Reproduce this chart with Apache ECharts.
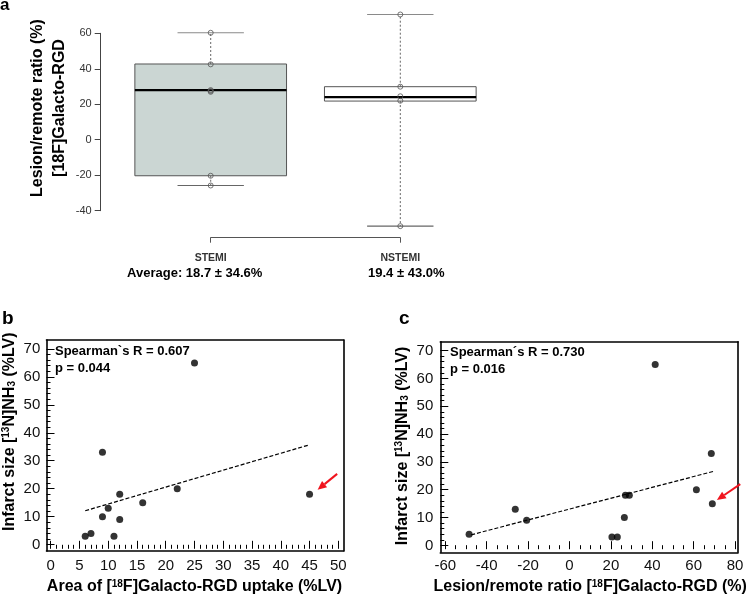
<!DOCTYPE html>
<html><head><meta charset="utf-8">
<script src="https://cdn.jsdelivr.net/npm/echarts@6/dist/echarts.min.js"></script>
<style>html,body{margin:0;padding:0;background:#fff}#c{width:754px;height:596px}</style>
</head><body><div id="c"></div>
<script>
// ---------- Panel a: box plot ----------
const boxCategories = ['STEMI', 'NSTEMI'];
const boxAverages = ['Average: 18.7 ± 34.6%', '19.4 ± 43.0%'];
// [catIndex, lower whisker, Q1, median, Q3, upper whisker]
const boxStats = [[0, -25.8, -20.3, 28, 42.7, 60.3], [1, -48.7, 21.8, 24, 29.9, 70.6]];
const stemiPoints = [60.3, 42.5, 28, 27.5, 27, -20.3, -25.8];
const nstemiPoints = [70.6, 29.9, 24.5, 22, -48.7];

// ---------- Panel b ----------
const uptakeArea = [6, 7, 9, 9, 10, 11, 12, 12, 16, 22, 25, 45];
const infarctSizeB = [3, 4, 10, 33, 13, 3, 18, 9, 15, 20, 65, 18];
const fitB = [[6, 12.1], [45, 35.7]];
const arrowB = [[49.8, 25.3, 46.4, 19.6]];

// ---------- Panel c ----------
const lesionRatio = [-48.5, -26.2, -20.7, 20.5, 23.1, 26.5, 27, 28.9, 41.4, 61.3, 68.5, 69];
const infarctSizeC = [4, 13, 9, 3, 3, 10, 18, 18, 65, 20, 33, 15];
const fitC = [[-47.5, 3.8], [69.5, 26.6]];
const arrowC = [[82.5, 22, 71.2, 16.3]];

const FONT = '"Liberation Sans", Arial, Helvetica, sans-serif';

function zipXY(xs, ys) { return xs.map((x, i) => [x, ys[i]]); }

function boxRender(params, api) {
  const ci = api.value(0);
  const c0 = api.coord([0, 0]), c1 = api.coord([1, 0]);
  const step = Math.abs(c1[0] - c0[0]);
  const hw = step * 0.4, cw = step * 0.175;
  const x = api.coord([ci, 0])[0];
  const yLo = api.coord([ci, api.value(1)])[1];
  const yQ1 = api.coord([ci, api.value(2)])[1];
  const yMed = api.coord([ci, api.value(3)])[1];
  const yQ3 = api.coord([ci, api.value(4)])[1];
  const yHi = api.coord([ci, api.value(5)])[1];
  const fill = ci === 0 ? '#cbd6d3' : '#ffffff';
  return {
    type: 'group',
    children: [
      { type: 'line', shape: { x1: x, y1: yQ3, x2: x, y2: yHi }, style: { stroke: '#666', lineWidth: 1, lineDash: [2, 2] } },
      { type: 'line', shape: { x1: x, y1: yQ1, x2: x, y2: yLo }, style: { stroke: '#666', lineWidth: 1, lineDash: [2, 2] } },
      { type: 'line', shape: { x1: x - cw, y1: yHi, x2: x + cw, y2: yHi }, style: { stroke: '#8a8a8a', lineWidth: 1.2 } },
      { type: 'line', shape: { x1: x - cw, y1: yLo, x2: x + cw, y2: yLo }, style: { stroke: '#666', lineWidth: 1.2 } },
      { type: 'rect', shape: { x: x - hw, y: yQ3, width: 2 * hw, height: yQ1 - yQ3 }, style: { fill: fill, stroke: '#555', lineWidth: 1 } },
      { type: 'line', shape: { x1: x - hw, y1: yMed, x2: x + hw, y2: yMed }, style: { stroke: '#000', lineWidth: 2.2 } }
    ]
  };
}

function arrowRender(params, api) {
  const p1 = api.coord([api.value(0), api.value(1)]);
  const p2 = api.coord([api.value(2), api.value(3)]);
  const ang = Math.atan2(p2[1] - p1[1], p2[0] - p1[0]);
  const L = 9, W = 4;
  const bx = p2[0] - L * Math.cos(ang), by = p2[1] - L * Math.sin(ang);
  const nx = -Math.sin(ang) * W, ny = Math.cos(ang) * W;
  return {
    type: 'group',
    children: [
      { type: 'line', shape: { x1: p1[0], y1: p1[1], x2: bx, y2: by }, style: { stroke: '#f0141e', lineWidth: 2 } },
      { type: 'polygon', shape: { points: [[p2[0], p2[1]], [bx + nx, by + ny], [bx - nx, by - ny]] }, style: { fill: '#f0141e' } }
    ]
  };
}

const supRich = {
  sup: { fontSize: 10, fontWeight: 'bold', fontFamily: FONT, verticalAlign: 'top', color: '#000' },
  sub: { fontSize: 10, fontWeight: 'bold', fontFamily: FONT, verticalAlign: 'bottom', color: '#000' }
};

function dataXAxis(gridIndex, min, max, interval, minorSplit, offset, name) {
  return {
    type: 'value', gridIndex: gridIndex, position: 'bottom', min: min, max: max, interval: interval, offset: offset,
    splitLine: { show: false },
    axisLine: { show: false, onZero: false },
    axisTick: { show: true, inside: true, length: 8, lineStyle: { color: '#000', width: 1 } },
    minorTick: { show: true, splitNumber: minorSplit, length: 4, lineStyle: { color: '#000', width: 1 } },
    axisLabel: { show: true, margin: 5 + offset, fontSize: 15, color: '#111', fontFamily: FONT, showMinLabel: true, showMaxLabel: true },
    name: name, nameLocation: 'middle', nameGap: 26 + offset, nameMoveOverlap: false,
    nameTextStyle: { fontSize: 16, fontWeight: 'bold', color: '#000', fontFamily: FONT, rich: supRich }
  };
}

function dataYAxis(gridIndex, offset, name, pad) {
  return {
    type: 'value', gridIndex: gridIndex, position: 'left', min: 0, max: 70, interval: 10, offset: offset,
    splitLine: { show: false },
    axisLine: { show: false, onZero: false },
    axisTick: { show: true, inside: true, length: 8, lineStyle: { color: '#000', width: 1 } },
    minorTick: { show: true, splitNumber: 5, length: 4, lineStyle: { color: '#000', width: 1 } },
    axisLabel: { show: true, margin: 2 + offset, fontSize: 15, color: '#111', fontFamily: FONT, showMinLabel: true, showMaxLabel: true },
    name: name, nameLocation: 'middle', nameRotate: 90, nameGap: 25 + offset, nameMoveOverlap: false,
    nameTextStyle: { fontSize: 16, fontWeight: 'bold', color: '#000', fontFamily: FONT, rich: supRich, padding: pad }
  };
}

// frame edge: an axis that only draws its line
function frameAxis(gridIndex, position) {
  return {
    type: 'value', gridIndex: gridIndex, position: position, min: 0, max: 1,
    splitLine: { show: false }, axisTick: { show: false }, axisLabel: { show: false }, minorTick: { show: false },
    axisLine: { show: true, onZero: false, lineStyle: { color: '#000', width: 1.6 } }
  };
}

const chart = echarts.init(document.getElementById('c'), null, { renderer: 'canvas' });

const option = {
  backgroundColor: '#fff',
  animation: false,
  textStyle: { fontFamily: FONT },
  title: [
    { text: 'a', left: 0, top: -3, padding: 0, textStyle: { fontSize: 17, fontWeight: 'bold', color: '#000', fontFamily: FONT } },
    { text: 'b', left: 2, top: 309, padding: 0, textStyle: { fontSize: 19, fontWeight: 'bold', color: '#000', fontFamily: FONT } },
    { text: 'c', left: 399, top: 309, padding: 0, textStyle: { fontSize: 19, fontWeight: 'bold', color: '#000', fontFamily: FONT } },
    { text: 'Spearman`s R = 0.607\np = 0.044', left: 55, top: 343.5, padding: 0,
      textStyle: { fontSize: 13, fontWeight: 'bold', color: '#000', lineHeight: 16.6, fontFamily: FONT } },
    { text: 'Spearman´s R = 0.730\np = 0.016', left: 450, top: 344.5, padding: 0,
      textStyle: { fontSize: 13, fontWeight: 'bold', color: '#000', lineHeight: 16.4, fontFamily: FONT } }
  ],
  grid: [
    // 0: panel a
    { left: 210.7, right: 353.7, top: 33.3, bottom: 385.3 },
    // 1: panel b data (tick span 0..50 x 0..70)
    { left: 50.7, right: 415.7, top: 348.9, bottom: 49.2 },
    // 2: panel c data (tick span -60..80 x 0..70)
    { left: 445.3, right: 18.9, top: 350.6, bottom: 47.5 },
    // 3: panel b frame
    { left: 46.5, right: 410.5, top: 340, bottom: 45 },
    // 4: panel c frame
    { left: 440.3, right: 16, top: 341.7, bottom: 43.7 }
  ],
  xAxis: [
    {
      type: 'category', gridIndex: 0, data: boxCategories, boundaryGap: false, position: 'bottom', offset: 27,
      axisLine: { show: true, onZero: false, lineStyle: { color: '#555', width: 1 } },
      axisTick: { show: true, length: 5, alignWithLabel: true, lineStyle: { color: '#555' } },
      splitLine: { show: false },
      axisLabel: {
        margin: 13, interval: 0,
        formatter: function (v, i) { return '{n|' + v + '}\n{' + (i === 0 ? 'b0' : 'b1') + '|' + boxAverages[i] + '}'; },
        rich: {
          n: { fontSize: 10.5, color: '#333', lineHeight: 15, fontFamily: FONT, fontWeight: 'bold' },
          b0: { fontSize: 13, color: '#000', fontWeight: 'bold', lineHeight: 16, fontFamily: FONT, padding: [0, 32, 0, 0] },
          b1: { fontSize: 13, color: '#000', fontWeight: 'bold', lineHeight: 16, fontFamily: FONT, padding: [0, 0, 0, 12] }
        }
      }
    },
    dataXAxis(1, 0, 50, 5, 5, 4.2, 'Area of [{sup|18}F]Galacto-RGD uptake (%LV)'),
    dataXAxis(2, -60, 80, 20, 4, 3.8, 'Lesion/remote ratio [{sup|18}F]Galacto-RGD (%)'),
    frameAxis(3, 'bottom'), frameAxis(3, 'top'),
    frameAxis(4, 'bottom'), frameAxis(4, 'top')
  ],
  yAxis: [
    {
      type: 'value', gridIndex: 0, min: -40, max: 60, interval: 20, offset: 110, position: 'left',
      splitLine: { show: false },
      axisLine: { show: true, onZero: false, lineStyle: { color: '#444', width: 1 } },
      axisTick: { show: true, length: 6, lineStyle: { color: '#444' } },
      axisLabel: { margin: 9, fontSize: 11, color: '#333', fontFamily: FONT },
      name: 'Lesion/remote ratio (%)\n[18F]Galacto-RGD', nameLocation: 'middle', nameRotate: 90, nameGap: 30, nameMoveOverlap: false,
      nameTextStyle: { fontSize: 16, fontWeight: 'bold', color: '#000', lineHeight: 22, fontFamily: FONT, align: 'center', padding: [0, 0, 0, 28] }
    },
    dataYAxis(1, 4.2, 'Infarct size [{sup|13}N]NH{sub|3} (%LV)', [0, 0, 0, 30]),
    dataYAxis(2, 5, 'Infarct size [{sup|13}N]NH{sub|3} (%LV)', [0, 0, 0, 4]),
    frameAxis(3, 'left'), frameAxis(3, 'right'),
    frameAxis(4, 'left'), frameAxis(4, 'right')
  ],
  series: [
    {
      type: 'custom', xAxisIndex: 0, yAxisIndex: 0, renderItem: boxRender, data: boxStats, clip: false,
      encode: { x: 0, y: [1, 2, 3, 4, 5] }, z: 2
    },
    {
      type: 'scatter', xAxisIndex: 0, yAxisIndex: 0, clip: false, symbol: 'circle', symbolSize: 5, z: 3,
      itemStyle: { color: 'rgba(255,255,255,0)', borderColor: '#555', borderWidth: 1 },
      data: stemiPoints.map(v => [0, v]).concat(nstemiPoints.map(v => [1, v]))
    },
    {
      type: 'line', xAxisIndex: 1, yAxisIndex: 1, data: fitB, symbol: 'none', z: 3, clip: false,
      lineStyle: { color: '#000', width: 1.2, type: [4, 2] }
    },
    {
      type: 'scatter', xAxisIndex: 1, yAxisIndex: 1, data: zipXY(uptakeArea, infarctSizeB), symbolSize: 7, z: 4, clip: false,
      itemStyle: { color: '#000' }
    },
    {
      type: 'custom', xAxisIndex: 1, yAxisIndex: 1, renderItem: arrowRender, data: arrowB, clip: false, z: 5
    },
    {
      type: 'line', xAxisIndex: 2, yAxisIndex: 2, data: fitC, symbol: 'none', z: 3, clip: false,
      lineStyle: { color: '#000', width: 1.2, type: [4, 2] }
    },
    {
      type: 'scatter', xAxisIndex: 2, yAxisIndex: 2, data: zipXY(lesionRatio, infarctSizeC), symbolSize: 7, z: 4, clip: false,
      itemStyle: { color: '#000' }
    },
    {
      type: 'custom', xAxisIndex: 2, yAxisIndex: 2, renderItem: arrowRender, data: arrowC, clip: false, z: 5
    }
  ]
};
chart.setOption(option);
</script>
</body></html>
